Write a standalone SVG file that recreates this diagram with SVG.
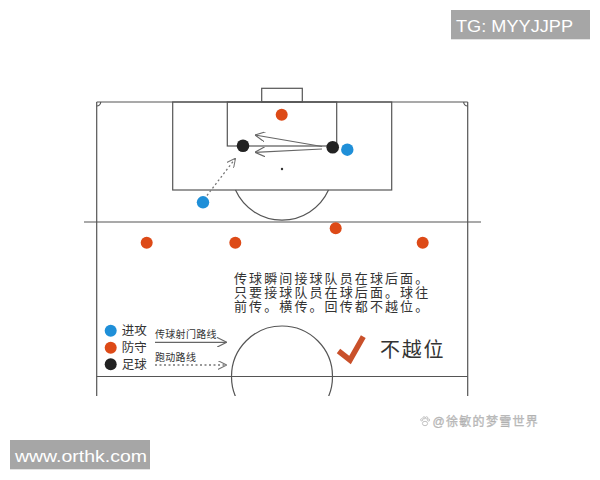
<svg xmlns="http://www.w3.org/2000/svg" width="600" height="480" viewBox="0 0 600 480">
<defs>
<style>
.ln{fill:none;stroke:#555;stroke-width:1.2}
.arr{fill:none;stroke:#666;stroke-width:1.2}
.dot{fill:none;stroke:#777;stroke-width:1.3;stroke-dasharray:2 2.5}
.blue{fill:#1f8fd8}
.orange{fill:#dd4a17}
.black{fill:#222}
.cn{font-family:"Liberation Sans","Noto Sans CJK SC",sans-serif;fill:#333}
.wm{font-family:"Liberation Sans",Arial,sans-serif;fill:#fff}
</style>
<marker id="chev" viewBox="0 0 10 10" refX="10" refY="5" markerWidth="10" markerHeight="10" markerUnits="userSpaceOnUse" orient="auto">
<path d="M0,0 L10,5 L0,10" fill="none" stroke="#666" stroke-width="1.2"/>
</marker>
<marker id="chevd" viewBox="0 0 10 10" refX="10" refY="5" markerWidth="9" markerHeight="9" markerUnits="userSpaceOnUse" orient="auto">
<path d="M0,0 L10,5 L0,10" fill="none" stroke="#777" stroke-width="1.2"/>
</marker>
<clipPath id="fieldclip"><rect x="0" y="0" width="600" height="396"/></clipPath>
</defs>
<rect width="600" height="480" fill="#fff"/>

<g id="pitch" clip-path="url(#fieldclip)">
<line class="ln" x1="96.7" y1="102" x2="96.7" y2="396"/>
<line class="ln" x1="467.7" y1="102" x2="467.7" y2="396"/>
<line class="ln" x1="96.7" y1="102" x2="467.7" y2="102"/>
<path class="ln" d="M96.7,106 A4,4 0 0,0 100.7,102"/>
<path class="ln" d="M463.7,102 A4,4 0 0,0 467.7,106"/>
<rect class="ln" x="261.7" y="88.3" width="40.6" height="13.7"/>
<rect class="ln" x="172.7" y="102" width="219" height="88"/>
<rect class="ln" x="227.3" y="102" width="109.4" height="44"/>
<circle cx="282" cy="169" r="1.2" fill="#333"/>
<path class="ln" d="M235.5,190 A51,51 0 0,0 328.5,190"/>
<line class="ln" x1="84" y1="222" x2="481" y2="222"/>
<line class="ln" x1="96.7" y1="376.5" x2="467.7" y2="376.5"/>
<circle class="ln" cx="282" cy="376.5" r="50.5"/>
</g>

<g id="connectors">
<line class="arr" x1="322" y1="146.5" x2="255" y2="135" marker-end="url(#chev)"/>
<line class="arr" x1="322" y1="149" x2="255" y2="152.3" marker-end="url(#chev)"/>
<line class="dot" x1="207" y1="195.5" x2="235.5" y2="158.3" marker-end="url(#chevd)"/>
</g>

<g id="players">
<circle id="gk" class="orange" cx="281.7" cy="114.7" r="6"/>
<circle id="ball-receiver" class="black" cx="243" cy="145.7" r="6.3"/>
<circle id="ball-passer" class="black" cx="332.7" cy="147.3" r="6.3"/>
<circle id="attacker1" class="blue" cx="347.3" cy="149.7" r="6.2"/>
<circle id="attacker2" class="blue" cx="203" cy="202.3" r="6.2"/>
<circle id="def1" class="orange" cx="146.7" cy="242.7" r="6"/>
<circle id="def2" class="orange" cx="235.3" cy="242.7" r="6"/>
<circle id="def3" class="orange" cx="335.7" cy="228.3" r="6"/>
<circle id="def4" class="orange" cx="422.7" cy="242.7" r="6"/>
</g>

<g id="explanation">
<text class="cn" font-size="13" letter-spacing="2.1" x="234" y="283">传球瞬间接球队员在球后面。</text>
<text class="cn" font-size="13" letter-spacing="2.1" x="234" y="297">只要接球队员在球后面。球往</text>
<text class="cn" font-size="13" letter-spacing="2.1" x="234" y="311">前传。横传。回传都不越位。</text>
</g>

<g id="legend">
<circle class="blue" cx="110.7" cy="330.7" r="6"/>
<circle class="orange" cx="110.7" cy="347.7" r="6"/>
<circle class="black" cx="110.7" cy="364.3" r="6"/>
<text class="cn" font-size="12.5" x="121.7" y="335">进攻</text>
<text class="cn" font-size="12.5" x="121.7" y="352">防守</text>
<text class="cn" font-size="12.5" x="121.7" y="368.8">足球</text>
<text class="cn" font-size="10" letter-spacing="0.3" x="155" y="337.5">传球射门路线</text>
<line class="arr" x1="155" y1="342.3" x2="226.7" y2="342.3" marker-end="url(#chev)"/>
<text class="cn" font-size="10" letter-spacing="0.3" x="155" y="361">跑动路线</text>
<line class="dot" x1="155" y1="365" x2="226.7" y2="365" marker-end="url(#chevd)"/>
</g>

<g id="verdict">
<path d="M338.5,351 L350,360 L363.3,336.7" fill="none" stroke="#c9502a" stroke-width="5.5" stroke-linejoin="miter" stroke-linecap="butt"/>
<text class="cn" font-size="20" letter-spacing="1.8" x="380" y="357" fill="#222">不越位</text>
</g>

<g id="watermarks">
<rect x="451" y="10" width="139" height="29.3" fill="#a6a6a6"/>
<text class="wm" font-size="17" x="456" y="31.5" textLength="117" lengthAdjust="spacingAndGlyphs">TG: MYYJJPP</text>
<rect x="10" y="440" width="140" height="29.3" fill="#a6a6a6"/>
<text class="wm" font-size="17" x="15" y="461.5" textLength="132" lengthAdjust="spacingAndGlyphs">www.orthk.com</text>
<g fill="none" stroke="#bbb" stroke-width="0.9">
<ellipse cx="425" cy="423.5" rx="2.6" ry="2.2"/>
<circle cx="421.7" cy="419.8" r="1.1"/>
<circle cx="424" cy="417.8" r="1.1"/>
<circle cx="426.6" cy="417.8" r="1.1"/>
<circle cx="428.6" cy="420" r="1.1"/>
</g>
<text font-family="'Liberation Sans','Noto Sans CJK SC',sans-serif" font-size="12" fill="#c4c4c4" stroke="#aaa" stroke-width="0.3" x="432.5" y="426" letter-spacing="1.3">@徐敏的梦雪世界</text>
</g>
</svg>
